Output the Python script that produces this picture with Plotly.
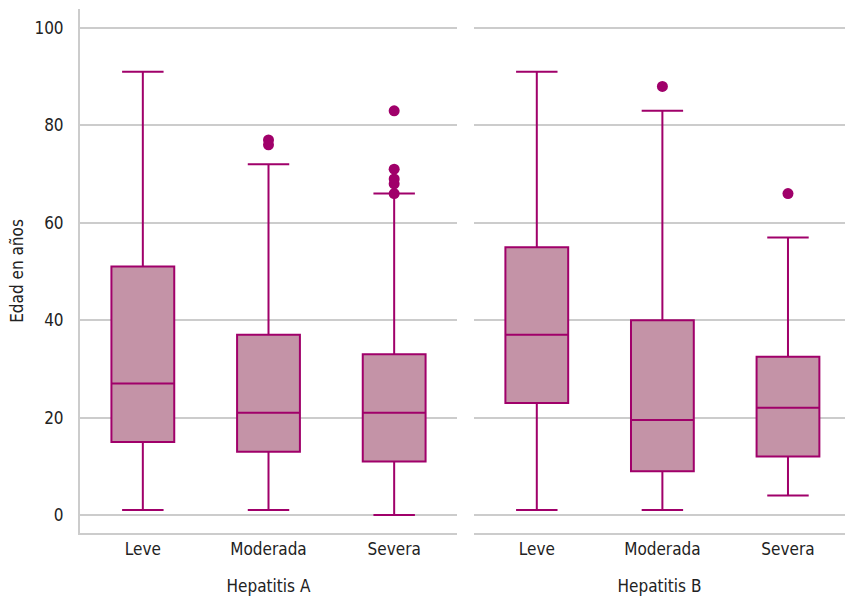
import plotly.graph_objects as go

categories = ["Leve", "Moderada", "Severa"]
panels = ["Hepatitis A", "Hepatitis B"]

# Hepatitis A
a_lower = [1, 1, 0]
a_q1 = [15, 13, 11]
a_median = [27, 21, 21]
a_q3 = [51, 37, 33]
a_upper = [91, 72, 66]
a_out_cat = ["Moderada", "Moderada", "Severa", "Severa", "Severa", "Severa", "Severa"]
a_out_val = [77, 76, 83, 71, 69, 68, 66]

# Hepatitis B
b_lower = [1, 1, 4]
b_q1 = [23, 9, 12]
b_median = [37, 19.5, 22]
b_q3 = [55, 40, 32.5]
b_upper = [91, 83, 57]
b_out_cat = ["Moderada", "Severa"]
b_out_val = [88, 66]

line_col = "#A0006A"
fill_col = "#C493A7"
grid_col = "#CCCCCC"
font_fam = "Liberation Sans Narrow, DejaVu Sans Condensed, Roboto, sans-serif"

fig = go.Figure()
for i, (lo, q1, md, q3, up, oc, ov) in enumerate([
        (a_lower, a_q1, a_median, a_q3, a_upper, a_out_cat, a_out_val),
        (b_lower, b_q1, b_median, b_q3, b_upper, b_out_cat, b_out_val)]):
    xa = "x" if i == 0 else "x2"
    ya = "y" if i == 0 else "y2"
    fig.add_trace(go.Box(
        x=categories, q1=q1, median=md, q3=q3, lowerfence=lo, upperfence=up,
        width=0.5, whiskerwidth=0.66, fillcolor=fill_col,
        line=dict(color=line_col, width=2), boxpoints=False,
        xaxis=xa, yaxis=ya, showlegend=False, hoverinfo="skip"))
    fig.add_trace(go.Scatter(
        x=oc, y=ov, mode="markers",
        marker=dict(color=line_col, size=11),
        xaxis=xa, yaxis=ya, showlegend=False, hoverinfo="skip"))

axis_common = dict(showgrid=False, showline=True, linecolor=grid_col, linewidth=2,
                   ticks="", automargin=False,
                   tickfont=dict(size=17, color="#222222", family=font_fam),
                   title_font=dict(size=17, color="#222222", family=font_fam),
                   categoryorder="array", categoryarray=categories, zeroline=False)

fig.update_layout(
    width=845, height=600,
    margin=dict(l=80, r=0, t=9, b=67),
    plot_bgcolor="white", paper_bgcolor="white",
    font=dict(family=font_fam, size=17, color="#222222"),
    xaxis=dict(domain=[0, 377 / 765], range=[-0.5, 2.5],
               title=dict(text=panels[0], standoff=22), **axis_common),
    xaxis2=dict(domain=[394 / 765, 1], range=[-0.5, 2.454],
                title=dict(text=panels[1], standoff=22), anchor="y2", **axis_common),
    yaxis=dict(range=[-3.7, 103.9], tickvals=[0, 20, 40, 60, 80, 100],
               showgrid=True, gridcolor=grid_col, gridwidth=2, automargin=False,
               showline=True, linecolor=grid_col, linewidth=2, zeroline=False,
               ticks="", ticklabelstandoff=11,
               tickfont=dict(size=17, color="#222222", family=font_fam),
               title=dict(text="Edad en años", standoff=6,
                          font=dict(size=17, color="#222222", family=font_fam))),
    yaxis2=dict(range=[-3.7, 103.9], tickvals=[0, 20, 40, 60, 80, 100],
                anchor="x2", showgrid=True, gridcolor=grid_col, gridwidth=2,
                automargin=False,
                showline=False, showticklabels=False, zeroline=False, ticks=""),
)

fig.write_html(
    "out.html",
    config={"displayModeBar": False, "staticPlot": True},
    post_script="document.body.style.margin='0';document.body.style.overflow='hidden';",
)
